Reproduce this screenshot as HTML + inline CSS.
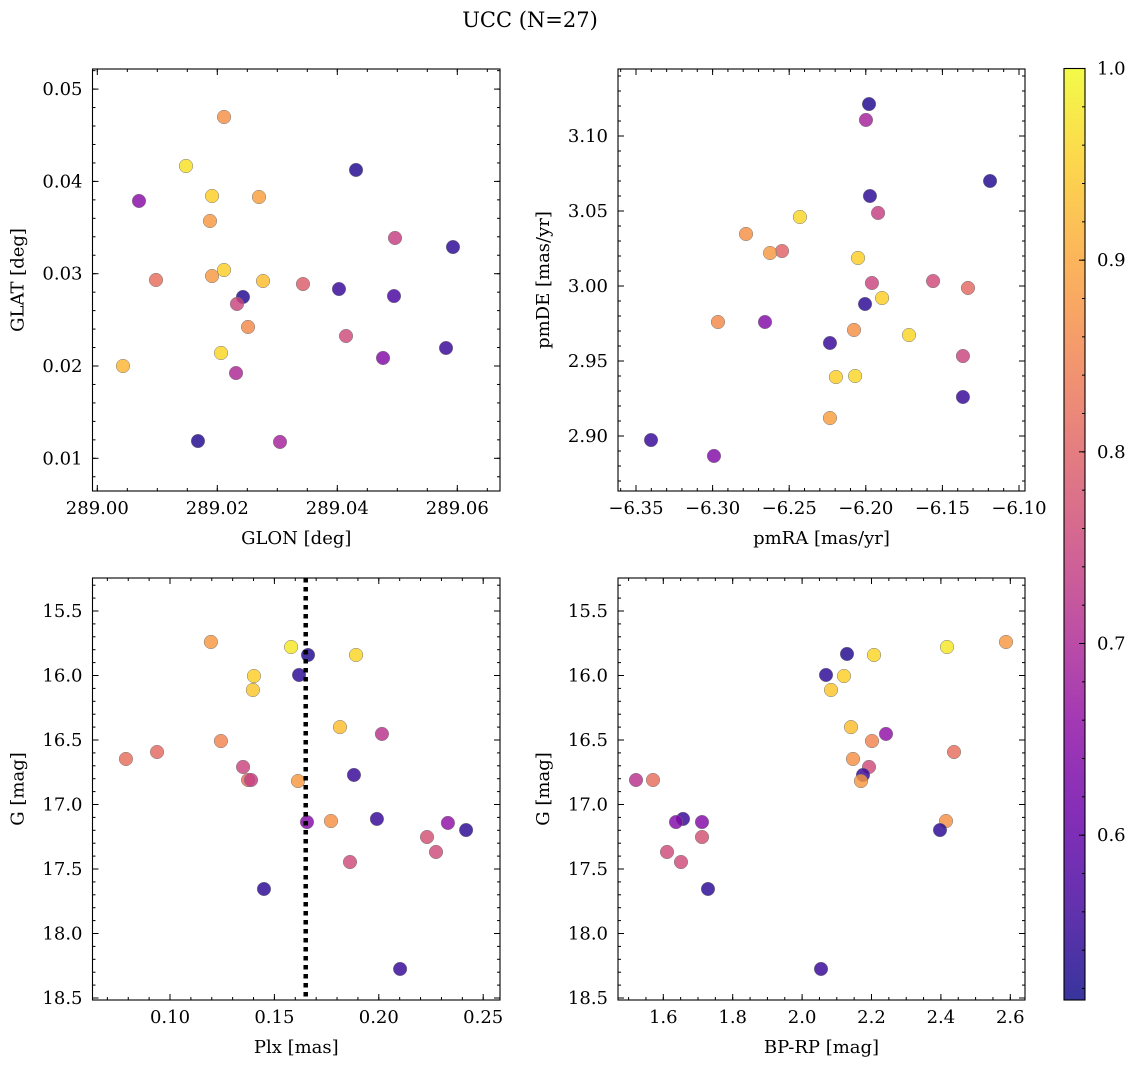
<!DOCTYPE html>
<html><head><meta charset="utf-8">
<style>
html,body{margin:0;padding:0;background:#fff;}
svg{display:block;font-family:"DejaVu Serif","Liberation Serif",serif;}
</style></head>
<body>
<svg id="fig" width="1136" height="1068" viewBox="0 0 1136 1068" xmlns="http://www.w3.org/2000/svg">
<rect width="1136" height="1068" fill="#fff"/>
<text x="530" y="27" text-anchor="middle" font-size="21">UCC (N=27)</text>
</svg>
<script>
// Panel 1: GLON / GLAT
const glonVals = [289.00695,289.01478,289.02112,289.01912,289.02695,289.01878,289.00978,289.01912,289.02112,289.02762,289.02428,289.02328,289.02512,289.00428,289.02062,289.02312,289.01678,289.03045,289.03428,289.04312,289.04028,289.04145,289.04962,289.04945,289.04762,289.05928,289.05812];
const glatVals = [0.03788,0.04167,0.04698,0.03842,0.03831,0.03571,0.02932,0.02975,0.0304,0.02921,0.02748,0.02672,0.02423,0.0200,0.02141,0.01924,0.01187,0.01177,0.02888,0.04124,0.02834,0.02325,0.03387,0.02758,0.02087,0.03289,0.02195];
const probP1 = [0.65,0.97,0.87,0.95,0.89,0.88,0.82,0.88,0.95,0.93,0.53,0.75,0.86,0.92,0.96,0.70,0.53,0.69,0.79,0.53,0.55,0.76,0.74,0.57,0.64,0.54,0.55];
// Panel 2: pmRA / pmDE
const pmraVals = [-6.1979,-6.1999,-6.1189,-6.1973,-6.192,-6.243,-6.2782,-6.2547,-6.2625,-6.2051,-6.196,-6.1561,-6.1333,-6.2005,-6.1894,-6.2965,-6.2658,-6.2077,-6.1718,-6.2234,-6.1366,-6.2195,-6.207,-6.1366,-6.2234,-6.3402,-6.2991];
const pmdeVals = [3.1213,3.1107,3.07,3.06,3.0487,3.046,3.0347,3.0233,3.022,3.0187,3.002,3.0033,2.9987,2.988,2.992,2.976,2.976,2.9707,2.9673,2.962,2.9533,2.9393,2.94,2.926,2.912,2.8973,2.8867];
const probP2 = [0.53,0.69,0.53,0.54,0.74,0.96,0.87,0.80,0.88,0.95,0.75,0.76,0.81,0.54,0.95,0.86,0.64,0.87,0.96,0.55,0.75,0.95,0.96,0.55,0.89,0.55,0.64];
// Panel 3: Plx / G
const plxVals = [0.1196,0.158,0.1661,0.1891,0.1618,0.1402,0.1397,0.1814,0.2015,0.1244,0.0789,0.0938,0.135,0.1374,0.1388,0.1613,0.1881,0.1771,0.1991,0.1656,0.2331,0.2418,0.2231,0.2274,0.1862,0.145,0.2102];
const gVals3 = [15.74,15.779,15.841,15.841,15.996,16.004,16.112,16.40,16.453,16.508,16.647,16.593,16.709,16.81,16.81,16.818,16.771,17.128,17.112,17.136,17.143,17.198,17.252,17.368,17.446,17.655,18.275];
const probP3 = [0.88,0.98,0.53,0.96,0.54,0.95,0.94,0.93,0.72,0.85,0.82,0.81,0.75,0.82,0.74,0.88,0.55,0.87,0.55,0.64,0.66,0.54,0.77,0.76,0.76,0.54,0.55];
// Panel 4: BP-RP / G
const bprpVals = [2.5876,2.4176,2.1294,2.2072,2.0689,2.1207,2.0833,2.1409,2.2418,2.2014,2.4378,2.1467,2.1928,2.1755,2.1697,1.5213,1.5703,1.6568,1.6366,1.7115,2.4147,2.3974,1.7115,1.6107,1.651,1.7288,2.0545];
const gVals4 = [15.74,15.779,15.833,15.841,15.996,16.004,16.112,16.40,16.453,16.508,16.593,16.647,16.709,16.771,16.818,16.81,16.81,17.112,17.136,17.136,17.128,17.198,17.252,17.368,17.446,17.655,18.275];
const probP4 = [0.88,0.98,0.53,0.96,0.54,0.95,0.94,0.93,0.66,0.85,0.82,0.87,0.76,0.55,0.88,0.72,0.82,0.55,0.64,0.64,0.87,0.54,0.77,0.76,0.76,0.54,0.55];
const cbTicks = [0.6,0.7,0.8,0.9,1.0];
const plxRef = 0.165;

const NS = "http://www.w3.org/2000/svg";
const svg = document.getElementById('fig');
function mk(tag, attrs, parent){ const e=document.createElementNS(NS,tag); for(const k in attrs) e.setAttribute(k,attrs[k]); (parent||svg).appendChild(e); return e; }

const VMIN=0.514, VMAX=1.0;
const plasma=[[13,8,135],[65,4,157],[106,0,168],[143,13,164],[177,42,144],[204,71,120],[225,100,98],[242,132,75],[252,166,54],[252,206,37],[240,249,33]];
function cmap(v){ let t=(v-VMIN)/(VMAX-VMIN); t=Math.max(0,Math.min(1,t)); const f=t*10; const i=Math.min(9,Math.floor(f)); const r=f-i; const a=plasma[i], b=plasma[i+1]; return 'rgb('+[0,1,2].map(k=>Math.round(a[k]+(b[k]-a[k])*r)).join(',')+')'; }

function fmt(v,d){ const s=Math.abs(v).toFixed(d); return (v<-1e-9?'\u2212':'')+s; }
const TFS=18, LFS=18;

function panel(name, box, xmap, ymap, xt, yt, xlabel, ylabel, xs, ys, cs){
  const g=mk('g',{});  
  const [L,T,R,B]=box;
  const X=v=>xmap[0]+(v-xmap[1])*xmap[2];
  const Y=v=>ymap[0]-(v-ymap[1])*ymap[2];
  const xinv=p=>xmap[1]+(p-xmap[0])/xmap[2];
  const yinv=p=>ymap[1]-(p-ymap[0])/ymap[2];
  const pg=mk('g',{},g);  
  for(let i=0;i<xs.length;i++){
    const c=mk('circle',{cx:X(xs[i]),cy:Y(ys[i]),r:6.8,fill:cmap(cs[i]),'fill-opacity':0.82,stroke:'#777','stroke-width':0.5},pg);
    
    
  }
  const tg=mk('g',{},g);  
  function ticks(lo,hi,step){ const out=[]; let s=Math.ceil(lo/step-1e-6); for(let k=s;k*step<=hi+1e-9;k++) out.push(+(k*step).toFixed(8)); return out; }
  const xlo=xinv(L), xhi=xinv(R), ylo=yinv(B), yhi=yinv(T);
  const ya=Math.min(ylo,yhi), yb=Math.max(ylo,yhi);
  ticks(xlo,xhi,xt.minor).forEach(v=>{const p=X(v); mk('line',{x1:p,x2:p,y1:B,y2:B-3,stroke:'#000','stroke-width':1},tg); mk('line',{x1:p,x2:p,y1:T,y2:T+3,stroke:'#000','stroke-width':1},tg);});
  ticks(ya,yb,yt.minor).forEach(v=>{const p=Y(v); mk('line',{x1:L,x2:L+3,y1:p,y2:p,stroke:'#000','stroke-width':1},tg); mk('line',{x1:R,x2:R-3,y1:p,y2:p,stroke:'#000','stroke-width':1},tg);});
  ticks(xlo,xhi,xt.major).forEach(v=>{const p=X(v); mk('line',{x1:p,x2:p,y1:B,y2:B-6,stroke:'#000','stroke-width':1},tg); mk('line',{x1:p,x2:p,y1:T,y2:T+6,stroke:'#000','stroke-width':1},tg);
    const t=mk('text',{x:p,y:B+23,'text-anchor':'middle','font-size':TFS},tg); t.textContent=fmt(v,xt.dec);  });
  ticks(ya,yb,yt.major).forEach(v=>{const p=Y(v); mk('line',{x1:L,x2:L+6,y1:p,y2:p,stroke:'#000','stroke-width':1},tg); mk('line',{x1:R,x2:R-6,y1:p,y2:p,stroke:'#000','stroke-width':1},tg);
    const t=mk('text',{x:L-10,y:p+6,'text-anchor':'end','font-size':TFS},tg); t.textContent=fmt(v,yt.dec);  });
  const fr=mk('rect',{x:L,y:T,width:R-L,height:B-T,fill:'none',stroke:'#000','stroke-width':1.1},g);
   
  const xl=mk('text',{x:(L+R)/2,y:B+53,'text-anchor':'middle','font-size':LFS},g); xl.textContent=xlabel;
   
  const yc=(T+B)/2, yx=L-(yt.off||70);
  const yl=mk('text',{x:yx,y:yc,'text-anchor':'middle','font-size':LFS,transform:'rotate(-90 '+yx+' '+yc+')'},g); yl.textContent=ylabel;
   
  return {X,Y,g};
}

panel('panel-glon-glat',[92.5,69,500,491],[97.3,289,6000],[458.3,0.01,9230],{major:0.02,minor:0.005,dec:2},{major:0.01,minor:0.002,dec:2,off:69},'GLON [deg]','GLAT [deg]',glonVals,glatVals,probP1);
panel('panel-pmra-pmde',[618,69,1025,491],[636,-6.35,1532],[136,3.10,1500],{major:0.05,minor:0.01,dec:2},{major:0.05,minor:0.01,dec:2,off:69},'pmRA [mas/yr]','pmDE [mas/yr]',pmraVals,pmdeVals,probP2);
const p3=panel('panel-plx-g',[92.5,578,500,1000],[170,0.10,2088],[611,15.5,-129],{major:0.05,minor:0.01,dec:2},{major:0.5,minor:0.1,dec:1,off:69},'Plx [mas]','G [mag]',plxVals,gVals3,probP3);
panel('panel-bprp-g',[618,578,1025,1000],[663.3,1.6,347],[611,15.5,-129],{major:0.2,minor:0.05,dec:1},{major:0.5,minor:0.1,dec:1,off:69},'BP-RP [mag]','G [mag]',bprpVals,gVals4,probP4);

const rl=mk('line',{x1:p3.X(plxRef),x2:p3.X(plxRef),y1:578,y2:1000,stroke:'#000','stroke-width':4.5,'stroke-dasharray':'4.5 4.5'},p3.g);



const cb=mk('g',{});  
const CBL=1064,CBR=1085,CBT=68.5,CBB=1000;
const CBY=v=>CBB-(v-VMIN)/(VMAX-VMIN)*(CBB-CBT);
const defs=mk('defs',{},svg);
const grad=mk('linearGradient',{id:'cbg',x1:0,y1:1,x2:0,y2:0},defs);
for(let i=0;i<=20;i++){ const v=VMIN+(VMAX-VMIN)*i/20; mk('stop',{offset:(i/20),'stop-color':cmap(v),'stop-opacity':0.82},grad); }
mk('rect',{x:CBL,y:CBT,width:CBR-CBL,height:CBB-CBT,fill:'url(#cbg)',stroke:'#000','stroke-width':1.1},cb);
for(let v=0.52;v<=1.0001;v+=0.02){ const p=CBY(v); mk('line',{x1:CBR,x2:CBR-3,y1:p,y2:p,stroke:'#000','stroke-width':1},cb); }
cbTicks.forEach(v=>{ const p=CBY(v); mk('line',{x1:CBR,x2:CBR-6,y1:p,y2:p,stroke:'#000','stroke-width':1},cb);
  const t=mk('text',{x:CBR+12,y:p+6,'font-size':TFS},cb); t.textContent=v.toFixed(1);
    });
</script>
</body></html>
